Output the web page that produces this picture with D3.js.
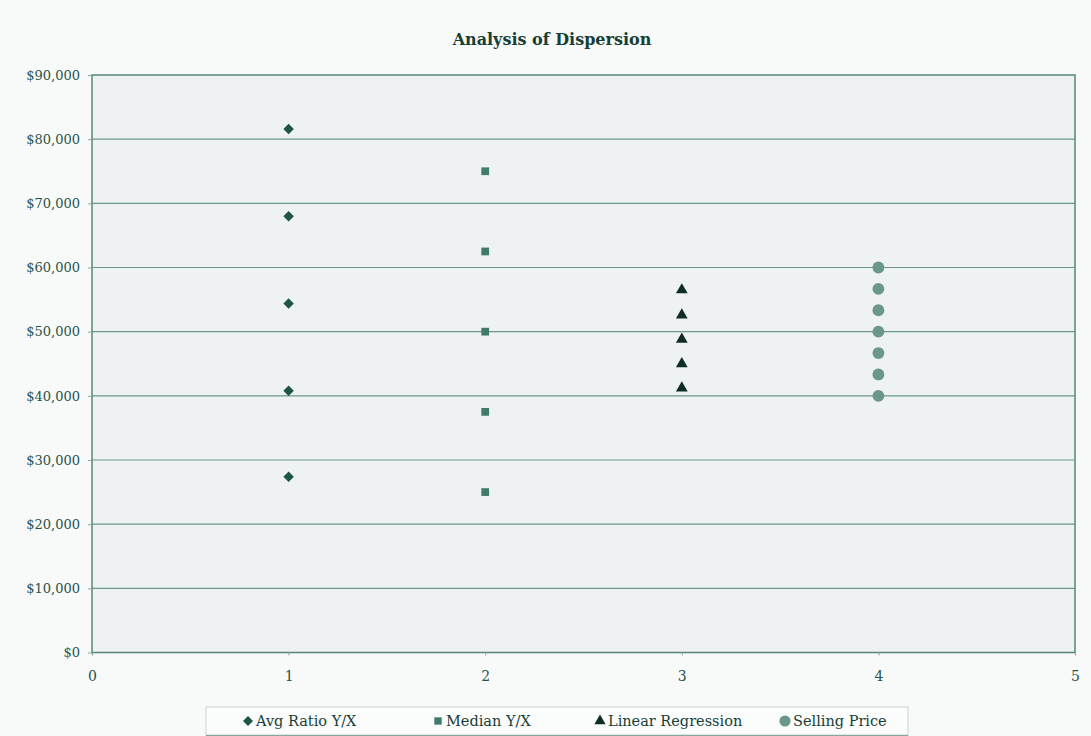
<!DOCTYPE html>
<html><head><meta charset="utf-8">
<script src="https://cdn.jsdelivr.net/npm/d3@7"></script>
<style>
body{margin:0;background:#f8f9f9;}
text{font-family:"DejaVu Serif",serif;}
</style></head>
<body><svg id="c" width="1091" height="736"></svg>
<script>
const title = "Analysis of Dispersion";
const xTicks = [0,1,2,3,4,5];
const yTicks = [0,10000,20000,30000,40000,50000,60000,70000,80000,90000];
const avgRatioX = 1;
const avgRatio = [81600, 68000, 54400, 40800, 27400];
const medianX = 2;
const median = [75000, 62500, 50000, 37500, 25000];
const linRegX = 3;
const linReg = [56500, 52600, 48800, 45000, 41200];
const sellX = 4;
const selling = [60000, 56667, 53333, 50000, 46667, 43333, 40000];
const seriesNames = ["Avg Ratio Y/X", "Median Y/X", "Linear Regression", "Selling Price"];

const FF = '"DejaVu Serif",serif';
const svg = d3.select("#c");
const L = 92, R = 1075, T = 75, B = 652.5;
const x = d3.scaleLinear().domain([0,5]).range([L,R]);
const y = d3.scaleLinear().domain([0,90000]).range([B,T]);

svg.append("rect").attr("x",L).attr("y",T).attr("width",R-L).attr("height",B-T).attr("fill","#eef2f2");

svg.append("g").selectAll("line").data(yTicks.filter(d=>d>0&&d<90000)).join("line")
  .attr("x1",L).attr("x2",R).attr("y1",d=>y(d)).attr("y2",d=>y(d))
  .attr("stroke","#6b978d").attr("stroke-width",1.2);

svg.append("rect").attr("x",L).attr("y",T).attr("width",R-L).attr("height",B-T)
  .attr("fill","none").attr("stroke","#55877c").attr("stroke-width",1.5);

const fmt = d => "$" + d3.format(",")(d);
const yAxis = svg.append("g").attr("transform",`translate(${L},0)`)
  .call(d3.axisLeft(y).tickValues(yTicks).tickFormat(fmt).tickSize(4).tickPadding(8));
yAxis.select(".domain").remove();
yAxis.selectAll("line").attr("stroke","#8aa8a0");
yAxis.selectAll("text").attr("font-size",13).attr("fill","#275448").style("font-family",FF);

const xAxis = svg.append("g").attr("transform",`translate(0,${B})`)
  .call(d3.axisBottom(x).tickValues(xTicks).tickFormat(d3.format("d")).tickSize(3).tickPadding(16));
xAxis.select(".domain").remove();
xAxis.selectAll("line").attr("stroke","#8aa8a0");
xAxis.selectAll("text").attr("font-size",14).attr("fill","#275448").style("font-family",FF);

svg.append("text").attr("x",552).attr("y",45).attr("text-anchor","middle")
  .attr("font-size",16).attr("font-weight","bold").attr("fill","#173f36").text(title);

const cols = ["#1d5548","#3f7a6c","#0f2d27","#6a968b"];
const sym = [d3.symbolSquare, d3.symbolSquare, d3.symbolTriangle, d3.symbolCircle];
const sizes = [55, 60, 60, 110];
const rot = [45, 0, 0, 0];
const series = [[avgRatioX,avgRatio],[medianX,median],[linRegX,linReg],[sellX,selling]];
series.forEach(([sx,vals],i)=>{
  svg.append("g").selectAll("path").data(vals).join("path")
    .attr("transform",d=>`translate(${x(sx)},${y(d)}) rotate(${rot[i]})`)
    .attr("d",d3.symbol().type(sym[i]).size(sizes[i]))
    .attr("fill",cols[i]);
});

const lg = svg.append("g");
lg.append("rect").attr("x",206).attr("y",707).attr("width",702).attr("height",30)
  .attr("fill","#fbfcfc").attr("stroke","#c9d6d3").attr("stroke-width",1);
lg.append("line").attr("x1",206).attr("x2",908).attr("y1",735.5).attr("y2",735.5).attr("stroke","#88a89f").attr("stroke-width",1.5);
const lx = [248, 438, 600, 785];
seriesNames.forEach((n,i)=>{
  lg.append("path").attr("transform",`translate(${lx[i]},${721}) rotate(${rot[i]})`)
    .attr("d",d3.symbol().type(sym[i]).size(sizes[i]*0.9)).attr("fill",cols[i]);
  lg.append("text").attr("x",lx[i]+8).attr("y",726).attr("font-size",14.5).attr("fill","#173f36").text(n);
});
</script></body></html>
